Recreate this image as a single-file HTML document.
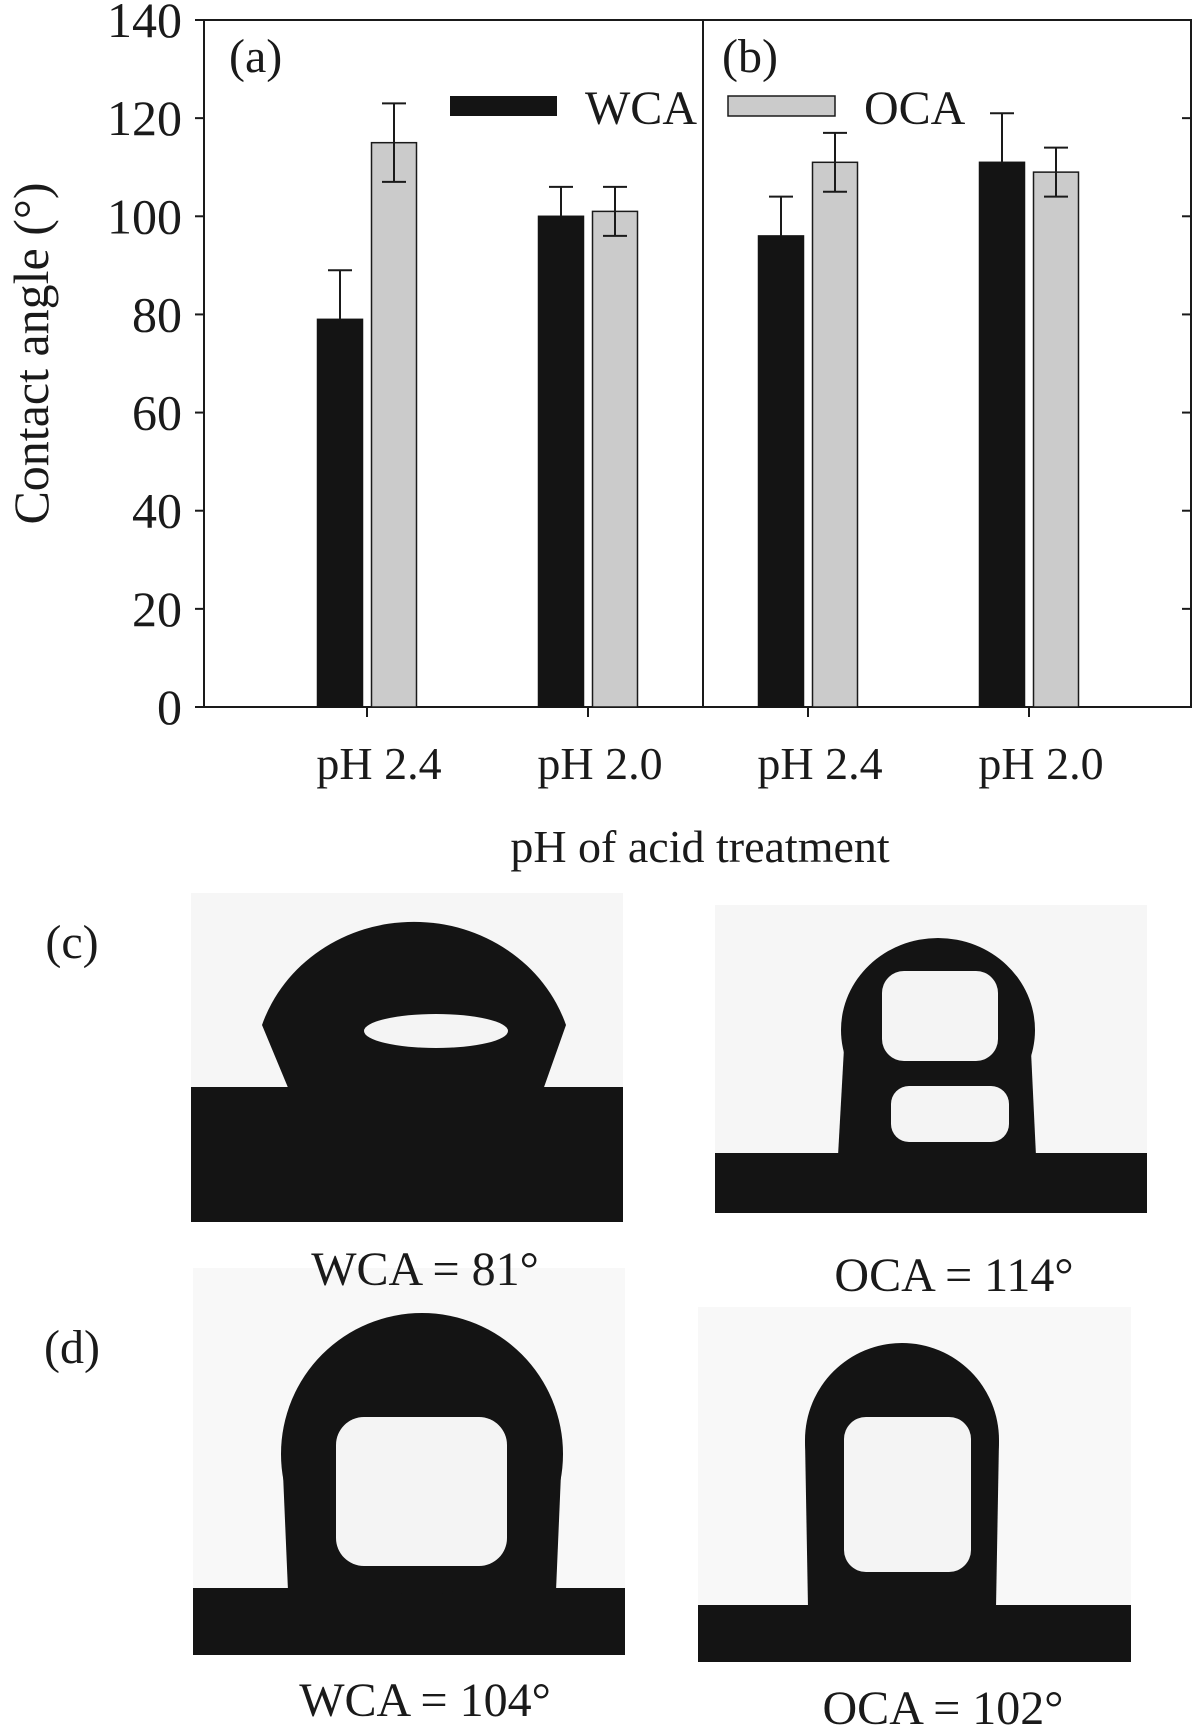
<!DOCTYPE html>
<html><head><meta charset="utf-8"><style>
html,body{margin:0;padding:0;background:#fff}
svg{display:block}
text{font-family:"Liberation Serif",serif;fill:#1a1a1a}
</style></head><body>
<svg id="fig" width="1197" height="1731" viewBox="0 0 1197 1731">
<g id="chart"></g>
<g>
  <g>
    <rect x="191" y="893" width="432" height="329" fill="#f6f6f6"/>
    <rect x="191" y="1087" width="432" height="135" fill="#141414"/>
    <path d="M289 1090 L262 1025 A160 150 0 0 1 566 1025 L543 1090 Z" fill="#141414"/>
    <ellipse cx="436" cy="1031" rx="72" ry="17" fill="#f4f4f4"/>
  </g>
  <g>
    <rect x="715" y="905" width="432" height="308" fill="#f6f6f6"/>
    <rect x="715" y="1153" width="432" height="60" fill="#141414"/>
    <ellipse cx="938" cy="1030" rx="97" ry="92" fill="#141414"/>
    <path d="M845 1030 L838 1156 L1036 1156 L1030 1030 Z" fill="#141414"/>
    <rect x="882" y="971" width="116" height="90" rx="22" fill="#f4f4f4"/>
    <rect x="891" y="1086" width="118" height="56" rx="18" fill="#f4f4f4"/>
  </g>
  <g>
    <rect x="193" y="1268" width="432" height="387" fill="#f8f8f8"/>
    <rect x="193" y="1588" width="432" height="67" fill="#141414"/>
    <ellipse cx="422" cy="1454" rx="141" ry="141" fill="#141414"/>
    <path d="M282 1450 L288 1591 L556 1591 L562 1450 Z" fill="#141414"/>
    <rect x="336" y="1417" width="171" height="149" rx="28" fill="#f4f4f4"/>
  </g>
  <g>
    <rect x="698" y="1307" width="433" height="355" fill="#f8f8f8"/>
    <rect x="698" y="1605" width="433" height="57" fill="#141414"/>
    <ellipse cx="902" cy="1440" rx="97" ry="97" fill="#141414"/>
    <path d="M805 1440 L808 1608 L996 1608 L999 1440 Z" fill="#141414"/>
    <rect x="844" y="1417" width="127" height="155" rx="22" fill="#f4f4f4"/>
  </g>
  <text x="72" y="958" font-size="48" text-anchor="middle">(c)</text>
  <text x="72" y="1363" font-size="48" text-anchor="middle">(d)</text>
  <text x="425" y="1285" font-size="48" text-anchor="middle">WCA = 81°</text>
  <text x="954" y="1291" font-size="48" text-anchor="middle">OCA = 114°</text>
  <text x="425" y="1716" font-size="48" text-anchor="middle">WCA = 104°</text>
  <text x="943" y="1724" font-size="48" text-anchor="middle">OCA = 102°</text>
</g>
</svg>
<script>
const categories = ["pH 2.4","pH 2.0","pH 2.4","pH 2.0"];
const wcaValues = [79,100,96,111];
const wcaErrors = [10,6,8,10];
const ocaValues = [115,101,111,109];
const ocaErrors = [8,5,6,5];
const yTicks = [0,20,40,60,80,100,120,140];

const NS="http://www.w3.org/2000/svg";
const g=document.getElementById('chart');
const L=204,R=1191,T=20,B=707,DIV=703;
const y=v=>B-(v/140)*(B-T);
const catX=i=>367 + (i<2? i*221 : 441+(i-2)*221);
function mk(tag,attrs,parent){const e=document.createElementNS(NS,tag);for(const k in attrs)e.setAttribute(k,attrs[k]);(parent||g).appendChild(e);return e;}

const axes=mk('path',{d:`M${L} ${T} L${L} ${B} L${R} ${B} L${R} ${T} L${L} ${T} M${DIV} ${T} L${DIV} ${B}`,fill:'none',stroke:'#1a1a1a','stroke-width':2});



yTicks.forEach(v=>{
  const t=mk('line',{x1:L-9,x2:L,y1:y(v),y2:y(v),stroke:'#1a1a1a','stroke-width':2});
  
  
  const t2=mk('line',{x1:R-9,x2:R,y1:y(v),y2:y(v),stroke:'#1a1a1a','stroke-width':2});
  
  
  const lb=mk('text',{x:L-22,y:y(v)+17,'font-size':50,'text-anchor':'end'});
  lb.textContent=v;
  
  
});

const bw=45;
categories.forEach((c,i)=>{
  const cx=catX(i);
  const tk=mk('line',{x1:cx,x2:cx,y1:B,y2:B+10,stroke:'#1a1a1a','stroke-width':2});
  
  
  const lb=mk('text',{x:cx+12,y:779,'font-size':46,'text-anchor':'middle'});
  lb.textContent=c;
  
  
  const xw=cx-27, xo=cx+27;
  const bw1=mk('rect',{x:xw-bw/2,y:y(wcaValues[i]),width:bw,height:B-y(wcaValues[i]),fill:'#141414',stroke:'#141414','stroke-width':1.5});
  
  
  const bo=mk('rect',{x:xo-bw/2,y:y(ocaValues[i]),width:bw,height:B-y(ocaValues[i]),fill:'#cbcbcb',stroke:'#1a1a1a','stroke-width':1.5});
  
  
  const e1=mk('path',{d:`M${xw} ${y(wcaValues[i])} V${y(wcaValues[i]+wcaErrors[i])} M${xw-12} ${y(wcaValues[i]+wcaErrors[i])} H${xw+12}`,stroke:'#1a1a1a','stroke-width':2,fill:'none'});
  
  
  const lo=ocaValues[i]-ocaErrors[i],hi=ocaValues[i]+ocaErrors[i];
  const e2=mk('path',{d:`M${xo} ${y(lo)} V${y(hi)} M${xo-12} ${y(hi)} H${xo+12} M${xo-12} ${y(lo)} H${xo+12}`,stroke:'#1a1a1a','stroke-width':2,fill:'none'});
  
  
});

const yt=mk('text',{x:0,y:0,'font-size':50,'text-anchor':'middle',transform:`translate(48,${(T+B)/2-10}) rotate(-90)`});
yt.textContent='Contact angle (°)';


const xt=mk('text',{x:700,y:862,'font-size':46,'text-anchor':'middle'});
xt.textContent='pH of acid treatment';


const pa=mk('text',{x:229,y:72,'font-size':48});
pa.textContent='(a)';


const pb=mk('text',{x:722,y:72,'font-size':48});
pb.textContent='(b)';


const l1=mk('rect',{x:450,y:96,width:107,height:20,fill:'#141414'});


const l1t=mk('text',{x:585,y:124,'font-size':48});
l1t.textContent='WCA';


const l2=mk('rect',{x:728,y:96,width:107,height:20,fill:'#cbcbcb',stroke:'#1a1a1a','stroke-width':1.5});


const l2t=mk('text',{x:864,y:124,'font-size':48});
l2t.textContent='OCA';


</script>
</body></html>
